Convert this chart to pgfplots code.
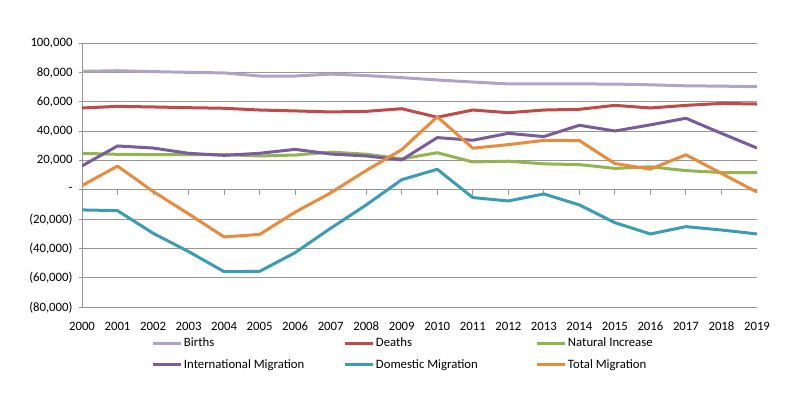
\documentclass[border=0pt]{standalone}
\usepackage{pgfplots}
\pgfplotsset{compat=1.18}
\usepackage{fontspec}
\setmainfont{Carlito}
\definecolor{cBirths}{HTML}{B3A2C7}
\definecolor{cDeaths}{HTML}{BE4B48}
\definecolor{cNat}{HTML}{92B550}
\definecolor{cIntl}{HTML}{7A5C9E}
\definecolor{cDom}{HTML}{3B9CB6}
\definecolor{cTot}{HTML}{EA8A3A}
\definecolor{cGrid}{HTML}{969696}
\begin{document}
\begin{tikzpicture}[font=\fontsize{12.8}{15}\selectfont]
\path[use as bounding box] (0,0) rectangle (800bp,399bp);
\begin{axis}[
  at={(82bp,91.7bp)}, anchor=south west,
  scale only axis, width=675bp, height=264bp,
  xmin=2000, xmax=2019, ymin=-80000, ymax=100000,
  scaled y ticks=false,
  xtick={2000,2001,2002,2003,2004,2005,2006,2007,2008,2009,2010,2011,2012,2013,2014,2015,2016,2017,2018,2019},
  ytick={-80000,-60000,-40000,-20000,0,20000,40000,60000,80000,100000},
  yticklabels={{(80,000)},{(60,000)},{(40,000)},{(20,000)},{-\hspace{8bp}},{20,000\hspace{2bp}},{40,000\hspace{2bp}},{60,000\hspace{2bp}},{80,000\hspace{2bp}},{100,000\hspace{2bp}}},
  /pgf/number format/assume math mode=true,
  xticklabel style={/pgf/number format/1000 sep={}, yshift=-8bp},
  yticklabel style={xshift=-3bp},
  x tick style={draw=none},
  y tick style={draw=cGrid, line width=1bp},
  tick align=outside, major tick length=3bp,
  ytick pos=left, xtick pos=bottom,
  ymajorgrids, grid style={cGrid, line width=1bp},
  axis line style={draw=none},
  legend columns=3,
  legend cell align=left,
  legend style={at={(0.1037,-0.116)}, anchor=north west, draw=none, fill=none,
    inner sep=0pt, outer sep=0pt, row sep=11bp,
    nodes={inner sep=0pt},
    /tikz/every odd column/.append style={column sep=1bp}},
  legend image code/.code={\draw[#1, line width=3bp] (0bp,0bp) -- (28bp,0bp);},
  every axis plot/.append style={line width=3bp, line join=round, no markers},
]
\draw[cGrid, line width=1bp] (rel axis cs:0,0) -- (rel axis cs:0,1);
\pgfplotsinvokeforeach{2000,2001,2002,2003,2004,2005,2006,2007,2008,2009,2010,2011,2012,2013,2014,2015,2016,2017,2018,2019}{
  \draw[cGrid, line width=1bp] (axis cs:#1,0) -- ([yshift=-5bp]axis cs:#1,0);
}
\addplot[cBirths] coordinates {(2000,80900)(2001,81300)(2002,80700)(2003,80200)(2004,79800)(2005,77700)(2006,77700)(2007,79000)(2008,78000)(2009,76600)(2010,75000)(2011,73600)(2012,72300)(2013,72300)(2014,72300)(2015,72200)(2016,71700)(2017,71000)(2018,70800)(2019,70400)};
\addlegendentry{\makebox[160bp][l]{Births}}
\addplot[cDeaths] coordinates {(2000,55900)(2001,57000)(2002,56600)(2003,56100)(2004,55700)(2005,54500)(2006,53900)(2007,53200)(2008,53600)(2009,55400)(2010,49600)(2011,54500)(2012,52700)(2013,54500)(2014,55000)(2015,57700)(2016,55900)(2017,57700)(2018,59000)(2019,58600)};
\addlegendentry{\makebox[160bp][l]{Deaths}}
\addplot[cNat] coordinates {(2000,25000)(2001,24300)(2002,24100)(2003,24100)(2004,24100)(2005,23200)(2006,23800)(2007,25800)(2008,24400)(2009,21200)(2010,25400)(2011,19100)(2012,19600)(2013,17800)(2014,17300)(2015,14700)(2016,15800)(2017,13200)(2018,11900)(2019,11800)};
\addlegendentry{\makebox[160bp][l]{Natural Increase}}
\addplot[cIntl] coordinates {(2000,16400)(2001,30000)(2002,28600)(2003,25000)(2004,23600)(2005,25000)(2006,27700)(2007,24500)(2008,23200)(2009,20500)(2010,35700)(2011,33900)(2012,38600)(2013,36400)(2014,44100)(2015,40200)(2016,44400)(2017,48900)(2018,38600)(2019,28600)};
\addlegendentry{\makebox[160bp][l]{International Migration}}
\addplot[cDom] coordinates {(2000,-13600)(2001,-14100)(2002,-29500)(2003,-42000)(2004,-55700)(2005,-55500)(2006,-42700)(2007,-26100)(2008,-10200)(2009,7000)(2010,14100)(2011,-5200)(2012,-7500)(2013,-2700)(2014,-10200)(2015,-22300)(2016,-30000)(2017,-25000)(2018,-27300)(2019,-30000)};
\addlegendentry{\makebox[160bp][l]{Domestic Migration}}
\addplot[cTot] coordinates {(2000,3000)(2001,16300)(2002,-1000)(2003,-16300)(2004,-32000)(2005,-30300)(2006,-15100)(2007,-2000)(2008,13300)(2009,27500)(2010,49900)(2011,28500)(2012,30900)(2013,33800)(2014,33700)(2015,18000)(2016,14200)(2017,24000)(2018,11300)(2019,-1500)};
\addlegendentry{\makebox[160bp][l]{Total Migration}}
\end{axis}
\end{tikzpicture}
\end{document}
